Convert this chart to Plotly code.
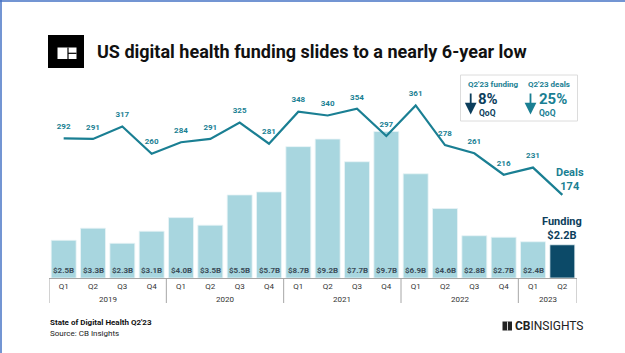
import plotly.graph_objects as go

quarters = ["Q1", "Q2", "Q3", "Q4"] * 4 + ["Q1", "Q2"]
years = ["2019", "2020", "2021", "2022", "2023"]
year_sizes = [4, 4, 4, 4, 2]
funding = [2.5, 3.3, 2.3, 3.1, 4.0, 3.5, 5.5, 5.7, 8.7, 9.2, 7.7, 9.7, 6.9, 4.6, 2.8, 2.7, 2.4, 2.2]
deals = [292, 291, 317, 260, 284, 291, 325, 281, 348, 340, 354, 297, 361, 278, 261, 216, 231, 174]
funding_qoq = "8%"
deals_qoq = "25%"

FW, FH = 625, 353
L, R, T, B = 49, 48, 60, 75
W = FW - L - R
H = FH - T - B

def px(x):
    return (x - L) / W

def py(y):
    return (FH - B - y) / H

LIGHT = "#a8d6df"
DARK = "#0c4a68"
TEAL = "#1a7f93"
NAVY = "#0c3e5c"
GRAY = "#a6a6a6"
FONT = "Roboto"

n = len(funding)
xs = list(range(n))

fig = go.Figure()
fig.add_trace(go.Bar(
    x=xs, y=funding,
    marker=dict(color=[LIGHT] * (n - 1) + [DARK], line=dict(color="#e8f4f6", width=0.8)),
    hoverinfo="skip", showlegend=False,
))
fig.add_trace(go.Scatter(
    x=xs, y=deals, yaxis="y2",
    mode="lines+markers+text",
    line=dict(color=TEAL, width=2.2),
    marker=dict(size=10, color="rgba(0,0,0,0)"),
    text=[f"<b>{d}</b>" for d in deals[:-1]] + [""],
    textposition="top center",
    textfont=dict(family=FONT, size=8, color=TEAL),
    hoverinfo="skip", showlegend=False,
))

annotations = []
# bar value labels
for i, v in enumerate(funding[:-1]):
    annotations.append(dict(
        x=i, y=0, xref="x", yref="y", yanchor="bottom", yshift=1,
        text=f"<b>${v:.1f}B</b>", showarrow=False,
        font=dict(family=FONT, size=8, color="#3b4d59"),
    ))
# year labels
start = 0
shapes = []
bounds = [-0.5]
for yr, sz in zip(years, year_sizes):
    center = start + (sz - 1) / 2
    annotations.append(dict(
        x=center, y=py(299), xref="x", yref="paper", yanchor="middle",
        text=yr, showarrow=False, font=dict(family=FONT, size=8, color="#333333"),
    ))
    start += sz
    bounds.append(start - 0.5)
for b in bounds:
    shapes.append(dict(type="line", xref="x", yref="paper", x0=b, x1=b, y0=0, y1=py(303),
                       line=dict(color=GRAY, width=1)))

def ann(x, y, text, size, color, anchor="left", bold=True):
    annotations.append(dict(
        x=px(x), y=py(y), xref="paper", yref="paper", xanchor=anchor, yanchor="middle",
        text=f"<b>{text}</b>" if bold else text, showarrow=False,
        font=dict(family=FONT, size=size, color=color),
    ))

# title
ann(95, 51.5, "US digital health funding slides to a nearly 6-year low", 18, "#111111")

# end labels
ann(570, 179.5, f"Deals<br>{deals[-1]}", 11, TEAL, "center")
ann(562, 228.5, f"Funding<br>${funding[-1]:.1f}B", 11, NAVY, "center")

# KPI box
shapes.append(dict(type="rect", xref="paper", yref="paper", x0=px(460.5), x1=px(577.5),
                   y0=py(121), y1=py(75), line=dict(color="#dcdcdc", width=1), fillcolor="white", layer="below"))
ann(466, 84, "Q2'23 funding", 8, TEAL)
ann(526, 84, "Q2'23 deals", 8, TEAL)
ann(476, 99, funding_qoq, 15, NAVY)
ann(536.5, 99, deals_qoq, 15, TEAL)
ann(476.5, 112.5, "QoQ", 8.5, NAVY)
ann(537, 112.5, "QoQ", 8.5, TEAL)
for xa, col in [(470.7, NAVY), (530.5, TEAL)]:
    annotations.append(dict(
        x=px(xa), y=py(114.5), xref="paper", yref="paper", ax=0, ay=-22.5,
        axref="pixel", ayref="pixel", text="", showarrow=True,
        arrowhead=2, arrowsize=1.3, arrowwidth=1.8, arrowcolor=col,
    ))

# footer
ann(48, 322, "State of Digital Health Q2'23", 8, "#111111")
ann(48, 333, "Source: CB Insights", 8, "#222222", bold=False)
ann(513, 326, "<b>CB</b>INSIGHTS", 12, "#222222", bold=False)
# CB footer icon
shapes.append(dict(type="rect", xref="paper", yref="paper", x0=px(502.5), x1=px(512), y0=py(330.5), y1=py(321.5),
                   fillcolor="#222222", line=dict(width=0)))
shapes.append(dict(type="line", xref="paper", yref="paper", x0=px(507.5), x1=px(507.5), y0=py(330.5), y1=py(321.5),
                   line=dict(color="white", width=0.8)))

# top-left logo
shapes.append(dict(type="rect", xref="paper", yref="paper", x0=px(48), x1=px(84), y0=py(68), y1=py(35),
                   fillcolor="#000000", line=dict(width=0)))
shapes.append(dict(type="rect", xref="paper", yref="paper", x0=px(57.5), x1=px(76.5), y0=py(59), y1=py(47.5),
                   fillcolor="white", line=dict(width=0)))
shapes.append(dict(type="line", xref="paper", yref="paper", x0=px(68), x1=px(68), y0=py(59), y1=py(47.5),
                   line=dict(color="black", width=1.2)))
shapes.append(dict(type="line", xref="paper", yref="paper", x0=px(68), x1=px(76.5), y0=py(53.3), y1=py(53.3),
                   line=dict(color="black", width=1.2)))

# outer blue border (top and left)
shapes.append(dict(type="line", xref="paper", yref="paper", x0=px(0), x1=px(625), y0=py(1), y1=py(1),
                   line=dict(color="#4472c4", width=1.5)))
shapes.append(dict(type="line", xref="paper", yref="paper", x0=px(1), x1=px(1), y0=py(0), y1=py(353),
                   line=dict(color="#4472c4", width=1.5)))

fig.update_layout(
    width=FW, height=FH,
    margin=dict(l=L, r=R, t=T, b=B, pad=0),
    paper_bgcolor="white", plot_bgcolor="white",
    bargap=0.15,
    font=dict(family=FONT),
    xaxis=dict(
        tickmode="array", tickvals=xs, ticktext=quarters,
        range=[-0.5, n - 0.5], showgrid=False, zeroline=False,
        showline=True, linecolor=GRAY, linewidth=1, ticks="",
        tickfont=dict(family=FONT, size=8, color="#333333"),
        fixedrange=True,
    ),
    yaxis=dict(range=[0, H / 15.1], visible=False, fixedrange=True),
    yaxis2=dict(range=[0, H / 0.478], visible=False, overlaying="y", fixedrange=True),
    annotations=annotations,
    shapes=shapes,
    showlegend=False,
)

fig.write_html("out.html")
